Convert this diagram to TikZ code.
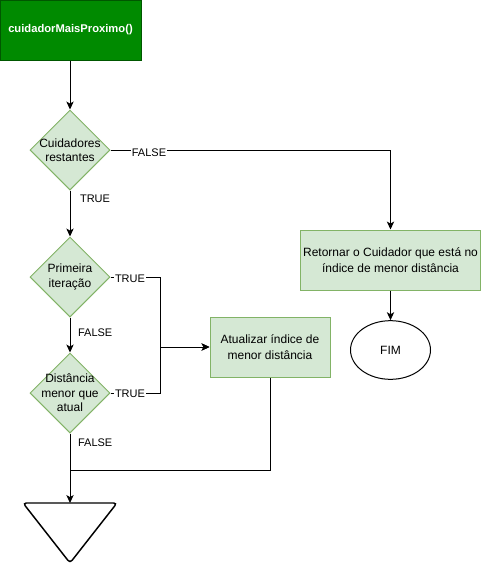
\documentclass[tikz,border=0pt]{standalone}
\usepackage{fontspec}
\setmainfont{Liberation Sans}
\usetikzlibrary{shapes.geometric,arrows.meta}
\definecolor{dkgreen}{HTML}{008A00}
\definecolor{dkgreenline}{HTML}{005700}
\definecolor{ltgreen}{HTML}{D5E8D4}
\definecolor{ltgreenline}{HTML}{82B366}
\begin{document}
\begin{tikzpicture}[x=0.75pt,y=-0.75pt,
  box/.style={rectangle, draw=ltgreenline, fill=ltgreen, inner sep=0, align=center, font=\fontsize{9}{11.5}\selectfont, line width=0.75pt},
  topbox/.style={rectangle, draw=dkgreenline, fill=dkgreen, text=white, inner sep=0, font=\fontsize{8.4}{11}\selectfont\bfseries, line width=0.75pt},
  dec/.style={diamond, draw=ltgreenline, fill=ltgreen, inner sep=0, minimum width=60pt, minimum height=60pt, line width=0.75pt},
  dectext/.style={align=center, inner sep=0, font=\fontsize{9}{10.8}\selectfont},
  endell/.style={ellipse, draw=black, fill=white, inner sep=0, minimum width=60pt, minimum height=44pt, font=\fontsize{9}{11}\selectfont, line width=0.75pt},
  conn/.style={draw=black, line width=0.75pt},
  arr/.style={conn, -{Stealth[length=6pt,width=5.5pt,inset=1.6pt]}},
  elab/.style={font=\fontsize{8.25}{10}\selectfont, inner sep=0.6pt},
  ]
\useasboundingbox (0,0) rectangle (482,565);

% nodes
\node[topbox, minimum width=105.75pt, minimum height=45pt] (top) at (70.5,30) {cuidadorMaisProximo()};
\node[dec] (d1) at (70,150) {};
\node[dectext] (d1t) at (70,150) {Cuidadores\\restantes};
\node[dec] (d2) at (70,277) {};
\node[dectext] (d2t) at (70,277) {Primeira\\iteração};
\node[dec] (d3) at (70,393) {};
\node[dectext] (d3t) at (70,393) {Distância\\menor que\\atual};
\node[box, minimum width=90pt, minimum height=45pt] (atu) at (270,347) {Atualizar índice de\\menor distância};
\node[box, minimum width=135pt, minimum height=45pt] (ret) at (390.5,260) {Retornar o Cuidador que está no\\índice de menor distância};
\node[endell] (fim) at (390.5,350) {FIM};

% end triangle
\draw[black, line width=1.1pt, rounded corners=2.5pt] (23,503) -- (117,503) -- (70,563) -- cycle;
\coordinate (tri) at (70,503);

\coordinate (jx) at (160,0);
\coordinate (jb) at (70,470);

% connectors
\draw[arr] (d1.north |- top.south) -- (d1.north);
\draw[arr] (d1.east) -| (ret.north);
\draw[arr] (d1.south) -- (d2.north);
\draw[arr] (d2.south) -- (d3.north);
\draw[arr] (d2.east) -- (d2.east -| jx) |- (atu.west);
\draw[arr] (d3.east) -- (d3.east -| jx) |- (atu.west);
\draw[arr] (d3.south) -- (tri);
\draw[conn] (atu.south) |- (jb);
\draw[arr] (ret.south) -- (fim.north);

% labels
\node[elab, fill=white] (l1) at (149,152.5) {FALSE};
\node[elab, anchor=west] (l2) at (79,199) {TRUE};
\node[elab, fill=white] (l3) at (130,278.5) {TRUE};
\node[elab, anchor=west] (l4) at (77,333) {FALSE};
\node[elab, fill=white] (l5) at (130,394) {TRUE};
\node[elab, anchor=west] (l6) at (77,443) {FALSE};
\end{tikzpicture}
\end{document}
